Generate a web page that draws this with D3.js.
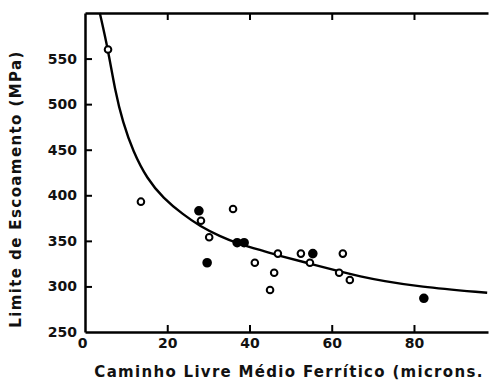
<!DOCTYPE html>
<html>
<head>
<meta charset="utf-8">
<script src="https://cdn.jsdelivr.net/npm/d3@7"></script>
<style>
  body { margin: 0; background: #fff; }
  text { font-family: "DejaVu Sans", sans-serif; fill: #111; }
</style>
</head>
<body>
<div id="chart"></div>
<script>
// Canvas size
const width = 496;
const height = 384;

// Measured points (mean free path in microns, yield stress in MPa)
const pathX = [5.6, 13.6, 27.7, 28.2, 30.2, 29.7, 36.0, 37.0, 38.7, 41.3,
               45.0, 46.0, 46.9, 52.5, 55.4, 54.7, 62.7, 61.8, 64.4, 82.4];
const stressY = [560, 393, 383, 372, 354, 326, 385, 348, 348, 326,
                 296, 315, 336, 336, 336, 326, 336, 315, 307, 287];
const filled = [0, 0, 1, 0, 0, 1, 0, 1, 1, 0,
                0, 0, 0, 0, 1, 0, 0, 0, 0, 1];

// Fitted curve
const curveX = [3.6, 5.6, 7.3, 9.2, 11.7, 15.1, 19.0, 23.8, 28, 32.8, 37.2,
                43.3, 47, 54.7, 61.8, 66.9, 72.5, 80.7, 97.8];
const curveY = [600, 560, 515, 480, 448, 418, 397, 379, 366, 355, 347,
                339, 334, 325, 316.5, 311, 306, 300, 293];

const xTicks = [0, 20, 40, 60, 80];
const yTicks = [250, 300, 350, 400, 450, 500, 550];

const svg = d3.select("#chart")
    .append("svg")
    .attr("width", width)
    .attr("height", height);

// Scales
const x = d3.scaleLinear().domain([0, 98]).range([85, 488]);
const y = d3.scaleLinear().domain([250, 600]).range([332, 13]);

// Bottom axis with inward ticks
const bottomAxis = svg.append("g")
    .attr("transform", `translate(0,${y(250)})`)
    .call(d3.axisBottom(x).tickValues(xTicks).tickSizeInner(-7).tickSizeOuter(0).tickPadding(10));

// Top axis with inward ticks, no labels (no right edge in the scan)
const topAxis = svg.append("g")
    .attr("transform", `translate(0,${y(600)})`)
    .call(d3.axisTop(x).tickValues(xTicks.slice(1)).tickSizeInner(-7).tickSizeOuter(0).tickFormat(""));

// Left axis with inward ticks
const leftAxis = svg.append("g")
    .attr("transform", `translate(${x(0)},0)`)
    .call(d3.axisLeft(y).tickValues(yTicks).tickSizeInner(-7).tickSizeOuter(0).tickPadding(8));

[bottomAxis, topAxis, leftAxis].forEach(g => {
    g.select(".domain").attr("stroke", "#000").attr("stroke-width", 2.5);
    g.selectAll(".tick line").attr("stroke", "#000").attr("stroke-width", 2);
    g.selectAll(".tick text")
        .style("font-size", "14px")
        .style("font-weight", "bold")
        .attr("fill", "#111");
});
leftAxis.select(".tick line").remove(); // 250 sits on the bottom axis
bottomAxis.select(".tick line").remove(); // 0 sits on the left axis
bottomAxis.selectAll(".tick text").attr("dy", "0.45em");
bottomAxis.select(".tick text").attr("dx", "-3px");

// Curve
svg.append("path")
    .datum(curveX.map((d, i) => [d, curveY[i]]))
    .attr("fill", "none")
    .attr("stroke", "#000")
    .attr("stroke-width", 2.4)
    .attr("d", d3.line().x(d => x(d[0])).y(d => y(d[1])).curve(d3.curveBasis));

// Points
svg.selectAll("circle.pt")
    .data(pathX.map((d, i) => ({ x: d, y: stressY[i], f: filled[i] })))
    .enter()
    .append("circle")
    .attr("class", "pt")
    .attr("cx", d => x(d.x))
    .attr("cy", d => y(d.y))
    .attr("r", d => d.f ? 3.8 : 3.3)
    .attr("fill", d => d.f ? "#000" : "#fff")
    .attr("stroke", "#000")
    .attr("stroke-width", 2);

// Axis titles
svg.append("text")
    .attr("x", 289)
    .attr("y", 377)
    .attr("text-anchor", "middle")
    .style("font-size", "15px")
    .style("font-weight", "bold")
    .style("letter-spacing", "1.3px")
    .text("Caminho Livre Médio Ferrítico (microns.");

svg.append("text")
    .attr("transform", "translate(21,189) rotate(-90)")
    .attr("text-anchor", "middle")
    .style("font-size", "15px")
    .style("font-weight", "bold")
    .style("letter-spacing", "1.4px")
    .text("Limite de Escoamento (MPa)");
</script>
</body>
</html>
